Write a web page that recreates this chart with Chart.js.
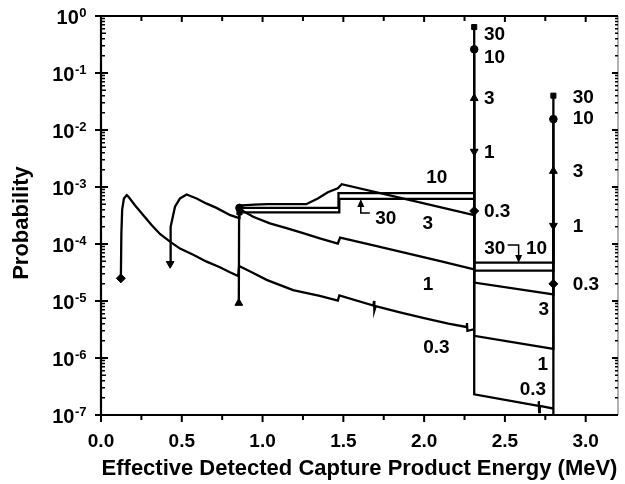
<!DOCTYPE html>
<html>
<head>
<meta charset="utf-8">
<script src="https://cdn.jsdelivr.net/npm/chart.js@4.4.0/dist/chart.umd.min.js"></script>
<style>
  body { margin: 0; background: #fff; }
  #wrap { width: 625px; height: 484px; }
</style>
</head>
<body>
<div id="wrap"><canvas id="chart" width="625" height="484"></canvas></div>
<script>
// energies (MeV) and probabilities for each layer thickness

const e03 = [0.123, 0.126, 0.131, 0.142, 0.159, 0.169, 0.21, 0.262, 0.313, 0.365, 0.427, 0.489, 0.571, 0.654, 0.736, 0.798, 0.849,
             0.855, 0.942, 1.025, 1.189, 1.354, 1.466, 1.475,
             1.686, 1.69, 1.692, 1.70, 1.85, 2.00, 2.15, 2.262, 2.265, 2.268, 2.31,
             2.31, 2.31, 2.708, 2.71, 2.712, 2.716, 2.8, 2.8, 2.8];
const p03 = [2.5e-5, 1.5e-4, 4.0e-4, 6.3e-4, 7.2e-4, 6.8e-4, 4.8e-4, 3.2e-4, 2.15e-4, 1.5e-4, 1.1e-4, 8.3e-5, 6.5e-5, 4.9e-5, 3.9e-5, 3.2e-5, 2.75e-5,
             4.1e-5, 3.1e-5, 2.35e-5, 1.55e-5, 1.23e-5, 1.02e-5, 1.25e-5,
             8.3e-6, 1.0e-5, 6.8e-6, 8.1e-6, 6.3e-6, 5.0e-6, 4.0e-6, 3.5e-6, 4.1e-6, 3.0e-6, 3.2e-6,
             3.8e-4, 2.3e-7, 1.45e-7, 1.75e-7, 1.12e-7, 1.44e-7, 1.3e-7, 2.0e-5, 1e-7];
const mk03 = [0, 35, 42];

const e1 = [0.428, 0.431, 0.458, 0.489, 0.53, 0.592, 0.654, 0.715, 0.80, 0.855,
            0.857, 0.942, 1.045, 1.148, 1.251, 1.354, 1.466, 1.48, 1.70, 1.89, 2.10, 2.31, 2.31, 2.31, 2.8, 2.8];
const p1 = [4.5e-5, 2.0e-4, 4.5e-4, 6.3e-4, 7.4e-4, 6.3e-4, 5.1e-4, 4.3e-4, 3.2e-4, 2.85e-4,
            4.1e-4, 3.0e-4, 2.3e-4, 1.9e-4, 1.55e-4, 1.26e-4, 1.02e-4, 1.3e-4, 9.3e-5, 6.9e-5, 5.0e-5, 3.6e-5, 4.2e-3, 2.45e-6, 1.45e-6, 2.1e-4];
const mk1 = [0, 22, 25];

const e3 = [0.853, 0.855, 0.95, 1.03, 1.27, 1.342, 1.404, 1.466, 1.49, 1.90, 2.31, 2.31, 2.31, 2.8, 2.8];
const p3 = [9.2e-6, 4.7e-4, 4.9e-4, 5.0e-4, 5.0e-4, 6.3e-4, 8.1e-4, 9.5e-4, 1.12e-3, 6.0e-4, 3.2e-4, 3.6e-2, 2.1e-5, 1.3e-5, 1.9e-3];
const mk3 = [0, 11, 14];

const e10 = [0.857, 1.47, 1.47, 2.31, 2.31, 2.31, 2.8, 2.8];
const p10 = [4.3e-4, 4.3e-4, 7.8e-4, 7.8e-4, 0.26, 3.4e-5, 3.4e-5, 0.0155];
const mk10 = [0, 4, 7];

const e30 = [0.857, 1.475, 1.475, 2.31, 2.31, 2.31, 2.8, 2.8];
const p30 = [3.6e-4, 3.6e-4, 6.2e-4, 6.2e-4, 0.64, 4.7e-5, 4.7e-5, 0.04];
const mk30 = [0, 4, 7];

const xTicks = [0, 0.5, 1.0, 1.5, 2.0, 2.5, 3.0];
const yDecades = [0, -1, -2, -3, -4, -5, -6, -7];

// curve labels: text, energy, probability, alignment
const curveLabels = [
  ['30', 2.37, 0.483, 'left'], ['10', 2.37, 0.191, 'left'], ['3', 2.37, 0.0364, 'left'],
  ['1', 2.37, 4.11e-3, 'left'], ['0.3', 2.37, 3.79e-4, 'left'],
  ['30', 2.92, 0.0379, 'left'], ['10', 2.92, 0.01626, 'left'], ['3', 2.92, 1.91e-3, 'left'],
  ['1', 2.92, 2.07e-4, 'left'], ['0.3', 2.92, 1.99e-5, 'left'],
  ['10', 2.078, 1.5e-3, 'center'], ['3', 2.022, 2.33e-4, 'center'], ['30', 1.763, 2.86e-4, 'center'],
  ['1', 2.024, 2.04e-5, 'center'], ['0.3', 2.076, 1.58e-6, 'center'],
  ['30', 2.437, 8.5e-5, 'center'], ['10', 2.696, 8.5e-5, 'center'], ['3', 2.74, 7.45e-6, 'center'],
  ['1', 2.735, 8.05e-7, 'center'], ['0.3', 2.673, 2.94e-7, 'center']
];

const FONT = "'Liberation Sans', Arial, sans-serif";
Chart.defaults.font.family = FONT;
Chart.defaults.font.weight = 'bold';
Chart.defaults.color = '#000';

function series(label, xs, ys, marks, style, rot, size) {
  return {
    label: label,
    data: xs.map((x, i) => ({x: x, y: ys[i]})),
    borderColor: '#000',
    backgroundColor: '#000',
    borderWidth: 2.3,
    pointStyle: style,
    pointRotation: rot,
    pointRadius: ctx => marks.includes(ctx.dataIndex) ? size : 0,
    pointBorderWidth: 1,
    tension: 0
  };
}

function arrowHead(ctx, x, y, dir) {
  // dir = -1 points up, 1 points down
  ctx.beginPath();
  ctx.moveTo(x, y);
  ctx.lineTo(x - 3.5, y - dir * 8);
  ctx.lineTo(x + 3.5, y - dir * 8);
  ctx.closePath();
  ctx.fill();
}

const decor = {
  id: 'decor',
  afterDraw(chart) {
    const ctx = chart.ctx;
    const a = chart.chartArea;
    const x = chart.scales.x, y = chart.scales.y;
    ctx.save();
    ctx.strokeStyle = '#000';
    ctx.fillStyle = '#000';

    // frame
    ctx.lineWidth = 2.2;
    ctx.beginPath();
    ctx.moveTo(a.right, a.top);
    ctx.lineTo(a.left, a.top);
    ctx.lineTo(a.left, a.bottom);
    ctx.lineTo(a.right, a.bottom);
    ctx.stroke();
    ctx.lineWidth = 1;
    ctx.strokeStyle = '#666';
    ctx.beginPath();
    ctx.moveTo(a.right, a.top);
    ctx.lineTo(a.right, a.bottom);
    ctx.stroke();
    ctx.strokeStyle = '#000';

    // x ticks
    ctx.lineWidth = 2;
    for (let i = 0; i <= 12; i++) {
      const px = x.getPixelForValue(i * 0.25);
      const major = i % 2 === 0;
      ctx.beginPath();
      ctx.moveTo(px, a.bottom);
      ctx.lineTo(px, a.bottom + (major ? 7 : 5));
      ctx.moveTo(px, a.top);
      ctx.lineTo(px, a.top + (major ? 6 : 5));
      ctx.stroke();
    }

    // y ticks
    yDecades.forEach(k => {
      for (let m = 1; m <= 9; m++) {
        if (k === 0 && m > 1) break;
        const py = y.getPixelForValue(m * Math.pow(10, k));
        ctx.lineWidth = m === 1 ? 2 : 1.5;
        ctx.beginPath();
        if (m === 1) {
          ctx.moveTo(a.left - 6, py); ctx.lineTo(a.left + 7, py);
          ctx.moveTo(a.right - 6, py); ctx.lineTo(a.right, py);
        } else {
          ctx.moveTo(a.left, py); ctx.lineTo(a.left + (m === 5 ? 5 : 4), py);
          ctx.moveTo(a.right - 3, py); ctx.lineTo(a.right, py);
        }
        ctx.stroke();
      }
    });

    // y tick labels 10^k
    ctx.textBaseline = 'alphabetic';
    yDecades.forEach(k => {
      const py = y.getPixelForValue(Math.pow(10, k));
      const base = '10', sup = String(k);
      ctx.font = 'bold 20px ' + FONT;
      const wb = ctx.measureText(base).width;
      ctx.font = 'bold 13px ' + FONT;
      const ws = ctx.measureText(sup).width;
      const x0 = 86 - wb - ws;
      ctx.font = 'bold 20px ' + FONT;
      ctx.textAlign = 'left';
      ctx.fillText(base, x0, py + 8);
      ctx.font = 'bold 13px ' + FONT;
      ctx.fillText(sup, x0 + wb + 0.5, py + 1);
    });

    // y title
    ctx.save();
    ctx.translate(22, 223);
    ctx.rotate(-Math.PI / 2);
    ctx.font = 'bold 22px ' + FONT;
    ctx.textAlign = 'center';
    ctx.textBaseline = 'middle';
    ctx.fillText('Probability', 0, 0);
    ctx.restore();

    // curve labels
    ctx.font = 'bold 19px ' + FONT;
    ctx.textBaseline = 'middle';
    curveLabels.forEach(l => {
      ctx.textAlign = l[3];
      ctx.fillText(l[0], x.getPixelForValue(l[1]), y.getPixelForValue(l[2]) + 1);
    });

    // arrow for 30 in the middle band
    ctx.lineWidth = 1.5;
    let ax = x.getPixelForValue(1.608);
    let ay0 = y.getPixelForValue(3.5e-4), ay1 = y.getPixelForValue(6.15e-4);
    ctx.beginPath();
    ctx.moveTo(x.getPixelForValue(1.664), ay0);
    ctx.lineTo(ax, ay0);
    ctx.lineTo(ax, ay1 + 6);
    ctx.stroke();
    arrowHead(ctx, ax, ay1, -1);

    // bracket for 30 in the high energy box
    ax = x.getPixelForValue(2.585);
    ay0 = y.getPixelForValue(9.6e-5);
    ay1 = y.getPixelForValue(4.65e-5);
    ctx.beginPath();
    ctx.moveTo(x.getPixelForValue(2.517), ay0);
    ctx.lineTo(ax, ay0);
    ctx.lineTo(ax, ay1 - 6);
    ctx.stroke();
    arrowHead(ctx, ax, ay1, 1);

    ctx.restore();
  }
};

new Chart(document.getElementById('chart'), {
  type: 'line',
  data: {
    datasets: [
      series('0.3', e03, p03, mk03, 'rectRot', 0, 4.5),
      series('1', e1, p1, mk1, 'triangle', 180, 4.5),
      series('3', e3, p3, mk3, 'triangle', 0, 4.5),
      series('10', e10, p10, mk10, 'circle', 0, 3.8),
      series('30', e30, p30, mk30, 'rect', 0, 3.6)
    ]
  },
  options: {
    responsive: false,
    animation: false,
    events: [],
    layout: { padding: { top: 16, right: 7, left: 0, bottom: 0 } },
    plugins: { legend: { display: false }, tooltip: { enabled: false } },
    scales: {
      x: {
        type: 'linear',
        min: 0,
        max: 3.2,
        grid: { display: false },
        border: { display: false },
        afterBuildTicks: s => { s.ticks = xTicks.map(v => ({value: v})); },
        afterFit: s => { s.height = 69; },
        ticks: {
          autoSkip: false,
          maxRotation: 0,
          padding: 7,
          font: { size: 19, weight: 'bold' },
          callback: v => Number(v).toFixed(1)
        },
        title: {
          display: true,
          text: 'Effective Detected Capture Product Energy (MeV)',
          font: { size: 22, weight: 'bold' },
          padding: { top: 0, bottom: 2 }
        }
      },
      y: {
        type: 'logarithmic',
        min: 1e-7,
        max: 1,
        grid: { display: false },
        border: { display: false },
        ticks: { display: false },
        afterFit: s => { s.width = 101; }
      }
    }
  },
  plugins: [decor]
});
</script>
</body>
</html>
